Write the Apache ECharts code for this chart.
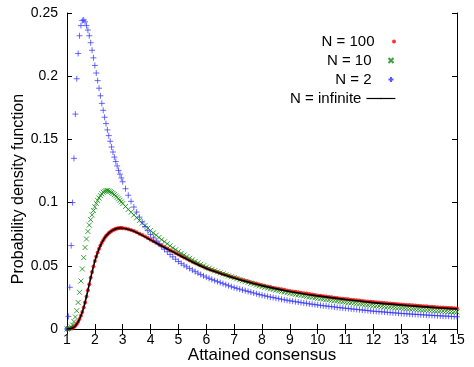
<!DOCTYPE html>
<html>
<head>
<meta charset="utf-8">
<script src="https://cdn.jsdelivr.net/npm/echarts@6/dist/echarts.min.js"></script>
<style>html,body{margin:0;padding:0;background:#fff}#c{width:474px;height:367px}</style>
</head>
<body>
<div id="c"></div>
<script>
// x positions of the sampled points (attained consensus)
var xs = [1.00,1.05,1.10,1.15,1.20,1.25,1.30,1.35,1.40,1.45,1.50,1.55,1.60,1.65,1.70,1.75,1.80,1.85,1.90,1.95,
2.00,2.05,2.10,2.15,2.20,2.25,2.30,2.35,2.40,2.45,2.50,2.55,2.60,2.65,2.70,2.75,2.80,2.85,2.90,2.95,3.00,
3.1,3.2,3.3,3.4,3.5,3.6,3.7,3.8,3.9,4.0,4.1,4.2,4.3,4.4,4.5,4.6,4.7,4.8,4.9,5.0,
5.1,5.2,5.3,5.4,5.5,5.6,5.7,5.8,5.9,6.0,6.1,6.2,6.3,6.4,6.5,6.6,6.7,6.8,6.9,7.0,
7.1,7.2,7.3,7.4,7.5,7.6,7.7,7.8,7.9,8.0,8.1,8.2,8.3,8.4,8.5,8.6,8.7,8.8,8.9,9.0,
9.1,9.2,9.3,9.4,9.5,9.6,9.7,9.8,9.9,10.0,10.1,10.2,10.3,10.4,10.5,10.6,10.7,10.8,10.9,11.0,
11.1,11.2,11.3,11.4,11.5,11.6,11.7,11.8,11.9,12.0,12.1,12.2,12.3,12.4,12.5,12.6,12.7,12.8,12.9,13.0,
13.1,13.2,13.3,13.4,13.5,13.6,13.7,13.8,13.9,14.0,14.1,14.2,14.3,14.4,14.5,14.6,14.7,14.8,14.9,15.0];

// N = 100 (red dots)
var n100 = [0.0000,0.0000,0.0002,0.0005,0.0009,0.0015,0.0025,0.0040,0.0058,0.0080,
0.0105,0.0135,0.0170,0.0210,0.0258,0.0307,0.0355,0.0405,0.0450,0.0495,
0.0537,0.0573,0.0605,0.0634,0.0660,0.0683,0.0703,0.0720,0.0735,0.0748,
0.0759,0.0768,0.0776,0.0783,0.0788,0.0793,0.0796,0.0798,0.0799,0.0799,0.0798,
0.0795,0.0790,0.0783,0.0775,0.0765,0.0754,0.0743,0.0731,0.0719,0.0707,
0.0695,0.0683,0.0671,0.0659,0.0648,0.0636,0.0624,0.0613,0.0601,0.0590,
0.0578,0.0566,0.0555,0.0544,0.0533,0.0522,0.0512,0.0502,0.0492,0.0482,
0.0474,0.0466,0.0458,0.0450,0.0443,0.0436,0.0429,0.0421,0.0414,0.0408,
0.0401,0.0394,0.0388,0.0382,0.0376,0.0370,0.0364,0.0358,0.0353,0.0347,
0.0342,0.0337,0.0332,0.0327,0.0323,0.0318,0.0314,0.0310,0.0305,0.0301,
0.0297,0.0294,0.0290,0.0287,0.0283,0.0280,0.0276,0.0273,0.0269,0.0266,
0.0263,0.0260,0.0257,0.0254,0.0251,0.0248,0.0245,0.0242,0.0240,0.0237,
0.0235,0.0232,0.0230,0.0227,0.0225,0.0222,0.0220,0.0218,0.0215,0.0213,
0.0211,0.0209,0.0207,0.0205,0.0203,0.0202,0.0200,0.0198,0.0196,0.0194,
0.0192,0.0190,0.0189,0.0187,0.0185,0.0184,0.0182,0.0180,0.0179,0.0177,
0.0176,0.0174,0.0173,0.0171,0.0170,0.0169,0.0167,0.0166,0.0164,0.0163];

// N = 10 (green crosses)
var n10 = [0.0000,0.0003,0.0008,0.0016,0.0032,0.0058,0.0095,0.0145,0.0210,0.0290,
0.0380,0.0475,0.0565,0.0645,0.0712,0.0772,0.0822,0.0865,0.0903,0.0937,
0.0967,0.0994,0.1017,0.1037,0.1055,0.1070,0.1082,0.1090,0.1095,0.1095,
0.1092,0.1087,0.1080,0.1072,0.1063,0.1053,0.1042,0.1030,0.1018,0.1005,0.0992,
0.0969,0.0946,0.0924,0.0902,0.0880,0.0859,0.0838,0.0818,0.0798,0.0779,
0.0760,0.0742,0.0724,0.0707,0.0690,0.0674,0.0658,0.0642,0.0627,0.0612,
0.0598,0.0585,0.0572,0.0559,0.0547,0.0535,0.0523,0.0511,0.0500,0.0489,
0.0480,0.0470,0.0461,0.0452,0.0444,0.0436,0.0428,0.0420,0.0413,0.0406,
0.0398,0.0390,0.0383,0.0376,0.0369,0.0362,0.0355,0.0348,0.0342,0.0335,
0.0329,0.0323,0.0317,0.0312,0.0307,0.0302,0.0297,0.0292,0.0287,0.0282,
0.0278,0.0274,0.0270,0.0266,0.0262,0.0258,0.0254,0.0250,0.0246,0.0242,
0.0239,0.0236,0.0233,0.0230,0.0227,0.0224,0.0221,0.0218,0.0215,0.0212,
0.0209,0.0207,0.0204,0.0202,0.0199,0.0196,0.0194,0.0191,0.0189,0.0186,
0.0184,0.0182,0.0180,0.0178,0.0176,0.0174,0.0172,0.0170,0.0168,0.0166,
0.0164,0.0162,0.0161,0.0159,0.0157,0.0156,0.0154,0.0152,0.0151,0.0149,
0.0148,0.0146,0.0145,0.0143,0.0142,0.0141,0.0139,0.0138,0.0136,0.0135];

// N = 2 (blue pluses)
var n2 = [0.0000,0.0100,0.0330,0.0660,0.1000,0.1350,0.1700,0.1980,0.2180,0.2320,
0.2400,0.2440,0.2445,0.2430,0.2400,0.2365,0.2320,0.2265,0.2205,0.2145,
0.2085,0.2025,0.1965,0.1905,0.1845,0.1785,0.1730,0.1675,0.1625,0.1575,
0.1530,0.1485,0.1440,0.1400,0.1360,0.1325,0.1290,0.1255,0.1225,0.1195,0.1165,
0.1110,0.1058,0.1010,0.0965,0.0925,0.0885,0.0847,0.0811,0.0778,0.0748,
0.0721,0.0697,0.0674,0.0652,0.0631,0.0611,0.0590,0.0571,0.0552,0.0534,
0.0519,0.0505,0.0492,0.0479,0.0466,0.0454,0.0442,0.0431,0.0420,0.0410,
0.0401,0.0392,0.0383,0.0375,0.0367,0.0359,0.0351,0.0343,0.0335,0.0328,
0.0321,0.0315,0.0309,0.0303,0.0297,0.0291,0.0285,0.0279,0.0273,0.0268,
0.0263,0.0258,0.0253,0.0249,0.0244,0.0240,0.0235,0.0231,0.0227,0.0223,
0.0220,0.0216,0.0213,0.0209,0.0206,0.0203,0.0199,0.0196,0.0193,0.0190,
0.0187,0.0184,0.0182,0.0179,0.0177,0.0174,0.0171,0.0169,0.0166,0.0164,
0.0162,0.0159,0.0157,0.0155,0.0153,0.0150,0.0148,0.0146,0.0143,0.0141,
0.0139,0.0137,0.0136,0.0134,0.0132,0.0130,0.0128,0.0127,0.0125,0.0123,
0.0122,0.0120,0.0119,0.0117,0.0116,0.0115,0.0113,0.0112,0.0110,0.0109,
0.0108,0.0107,0.0105,0.0104,0.0103,0.0102,0.0101,0.0099,0.0098,0.0097];

// N = infinite (black line)
var infX = [1.0,1.1,1.2,1.3,1.4,1.5,1.6,1.7,1.8,1.9,2.0,2.1,2.2,2.3,2.4,2.5,2.6,2.7,2.8,2.9,3.0,
3.25,3.5,3.75,4.0,4.5,5.0,5.5,6.0,6.5,7.0,7.5,8.0,9.0,10.0,11.0,12.0,13.0,14.0,15.0];
var infY = [0.0000,0.0001,0.0008,0.0024,0.0056,0.0105,0.0170,0.0258,0.0355,0.0450,0.0537,0.0605,0.0660,0.0703,0.0735,0.0759,0.0776,0.0788,0.0796,0.0799,0.0797,
0.0785,0.0763,0.0735,0.0705,0.0645,0.0587,0.0530,0.0479,0.0440,0.0404,0.0372,0.0343,0.0297,0.0262,0.0233,0.0209,0.0190,0.0173,0.0159];

var xTicks = [1,2,3,4,5,6,7,8,9,10,11,12,13,14,15];
var yTicks = [0,0.05,0.1,0.15,0.2,0.25];
var seriesNames = ['N = 100','N = 10','N = 2','N = infinite'];

function pairs(xArr, yArr){ return xArr.map(function(x,i){ return [x, yArr[i]]; }); }

var FONT = 'Liberation Sans, Arial, sans-serif';
var chart = echarts.init(document.getElementById('c'), null, {renderer:'canvas'});

var axisLine = {show:true, lineStyle:{color:'#000', width:1}};
var tickIn = {show:true, inside:true, length:5, lineStyle:{color:'#000', width:1}};

function legendFor(name, top, h){
  return {
    data:[name], right:78, top:top, align:'right', orient:'vertical',
    itemWidth:29, itemHeight:h, padding:0, itemGap:0, selectedMode:false,
    lineStyle:{width:1.2},
    textStyle:{fontSize:15, color:'#000', fontFamily:FONT}
  };
}

var crossPath = 'path://M0,0L10,10M10,0L0,10';
var plusPath = 'path://M5,0L5,10M0,5L10,5';

chart.setOption({
  animation:false,
  backgroundColor:'#fff',
  grid:{left:67, right:17, top:13, bottom:38, containLabel:false, outerBoundsMode:'none'},
  legend:[
    legendFor(seriesNames[0], 34, 4),
    legendFor(seriesNames[1], 53, 5),
    legendFor(seriesNames[2], 72, 5),
    legendFor(seriesNames[3], 91, 2)
  ],
  xAxis:[
    {type:'value', min:1, max:15, interval:1, position:'bottom',
     axisLine:axisLine, axisTick:tickIn, splitLine:{show:false},
     axisLabel:{color:'#000', fontSize:14, fontFamily:FONT, margin:4,
       formatter:function(v){ return xTicks.indexOf(v) >= 0 ? String(v) : ''; }},
     name:'Attained consensus', nameLocation:'middle', nameGap:18, nameMoveOverlap:false,
     nameTextStyle:{color:'#000', fontSize:17, fontFamily:FONT}},
    {type:'value', min:1, max:15, interval:1, position:'top',
     axisLine:axisLine, axisTick:tickIn, axisLabel:{show:false}, splitLine:{show:false}}
  ],
  yAxis:[
    {type:'value', min:0, max:0.25, interval:0.05, position:'left',
     axisLine:axisLine, axisTick:tickIn, splitLine:{show:false},
     axisLabel:{color:'#000', fontSize:14, fontFamily:FONT, margin:9,
       formatter:function(v){ var r = Math.round(v*100)/100; return yTicks.indexOf(r) >= 0 ? String(r) : ''; }},
     name:'Probability density function', nameLocation:'middle', nameGap:40, nameMoveOverlap:false,
     nameTextStyle:{color:'#000', fontSize:16, fontFamily:FONT, padding:[0,36,0,0]}},
    {type:'value', min:0, max:0.25, interval:0.05, position:'right',
     axisLine:axisLine, axisTick:tickIn, axisLabel:{show:false}, splitLine:{show:false}}
  ],
  series:[
    {name:seriesNames[0], type:'scatter', data:pairs(xs, n100), symbol:'circle', symbolSize:4,
     itemStyle:{color:'#ff0000'}, z:2},
    {name:seriesNames[1], type:'scatter', data:pairs(xs, n10), symbol:crossPath, symbolSize:5,
     itemStyle:{color:'none', borderColor:'#0a8a0a', borderWidth:1}, z:3},
    {name:seriesNames[2], type:'scatter', data:pairs(xs, n2), symbol:plusPath, symbolSize:6,
     itemStyle:{color:'none', borderColor:'#3030ff', borderWidth:0.9}, z:4},
    {name:seriesNames[3], type:'line', data:pairs(infX, infY), smooth:0.3, showSymbol:false, symbol:'none',
     lineStyle:{color:'#000', width:1.6}, itemStyle:{color:'#000'}, z:5}
  ]
});
</script>
</body>
</html>
